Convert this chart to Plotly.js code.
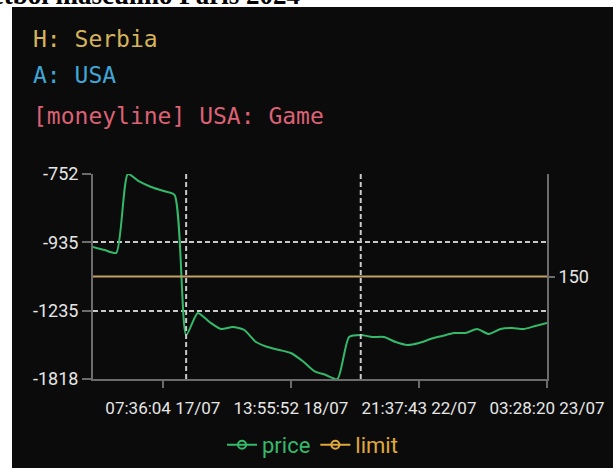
<!DOCTYPE html>
<html>
<head>
<meta charset="utf-8">
<script src="https://cdn.plot.ly/plotly-3.0.1.min.js"></script>
<style>
  html, body { margin:0; padding:0; width:613px; height:468px; overflow:hidden; background:#ffffff; }
  #title { position:absolute; right:313px; top:-18px; font:bold 27px "Liberation Serif", "DejaVu Serif", serif; line-height:27px; color:#000; white-space:nowrap; }
  #panel { position:absolute; left:12px; top:7px; width:601px; height:461px; background:#0b0b0b; }
  .hdr { position:absolute; left:33px; font:23px "DejaVu Sans Mono", "Liberation Mono", monospace; line-height:23px; white-space:nowrap; }
  #chart { position:absolute; left:12px; top:7px; width:601px; height:461px; }
</style>
</head>
<body>
<div id="title">Básquetbol masculino Paris 2024</div>
<div id="panel"></div>
<div id="chart"></div>
<div class="hdr" style="top:28px;color:#d6b35a;">H: Serbia</div>
<div class="hdr" style="top:64px;color:#3fa6d6;">A: USA</div>
<div class="hdr" style="top:105px;color:#dc6174;">[moneyline] USA: Game</div>
<script>
// moneyline price (American odds), one value per update
const priceOdds = [-950, -961, -971, -752, -769, -781, -790, -800, -1394, -1248,
                   -1304, -1351, -1337, -1358, -1448, -1489, -1514, -1541, -1617, -1723,
                   -1769, -1818, -1409, -1394, -1409, -1409, -1448, -1472, -1456, -1424,
                   -1401, -1379, -1379, -1351, -1387, -1351, -1344, -1351, -1330, -1311];
const limit = [150, 150, 150, 150, 150, 150, 150, 150, 150, 150,
               150, 150, 150, 150, 150, 150, 150, 150, 150, 150,
               150, 150, 150, 150, 150, 150, 150, 150, 150, 150,
               150, 150, 150, 150, 150, 150, 150, 150, 150, 150];
const yTickOdds = [-752, -935, -1235, -1818];
const xTickIdx = [6, 17, 28, 39];
const xTickLabels = ['07:36:04 17/07', '13:55:52 18/07', '21:37:43 22/07', '03:28:20 23/07'];
const markerIdx = [8, 23];
const limitTicks = [150];

// axis is linear in decimal odds
const toDec = o => o < 0 ? 1 + 100 / (-o) : 1 + o / 100;
const idx = priceOdds.map((_, i) => i);
const priceDec = priceOdds.map(toDec);

const fam = '"Roboto", "Liberation Sans", sans-serif';
const xFont = { family: fam, size: 17, color: '#e6e6e6' };
const yFont = { family: fam, size: 18, color: '#e6e6e6' };
const gridCol = '#c9c9c9';
const axisCol = '#6c6c6c';
const green = '#34b96b';
const orange = '#e0a83c';

const traces = [
  { x: idx, y: priceDec, type: 'scatter', mode: 'lines', showlegend: false,
    line: { color: green, width: 2, shape: 'spline', smoothing: 0.6 }, yaxis: 'y', cliponaxis: true },
  { x: idx, y: limit, type: 'scatter', mode: 'lines', showlegend: false,
    line: { color: '#c4a064', width: 2 }, yaxis: 'y2' },
  { x: [null], y: [null], type: 'scatter', mode: 'lines+markers',
    name: '<span style="color:' + green + '">price</span>',
    line: { color: green, width: 2 }, marker: { symbol: 'circle-open', size: 8, color: green, line: { width: 2 } } },
  { x: [null], y: [null], type: 'scatter', mode: 'lines+markers', yaxis: 'y2',
    name: '<span style="color:' + orange + '">limit</span>',
    line: { color: orange, width: 2 }, marker: { symbol: 'circle-open', size: 8, color: orange, line: { width: 2 } } }
];

const shapes = markerIdx.map(m => ({
  type: 'line', xref: 'x', yref: 'paper', x0: m, x1: m, y0: 0, y1: 1,
  line: { color: gridCol, width: 2, dash: '5px,3px' }, layer: 'above'
}));

const layout = {
  width: 601, height: 461,
  margin: { l: 81, r: 66, t: 167, b: 89, pad: 0 },
  paper_bgcolor: '#0b0b0b', plot_bgcolor: '#0b0b0b',
  showlegend: true,
  legend: { orientation: 'h', xref: 'container', yref: 'container', x: 0.5, xanchor: 'center', y: 0.05, yanchor: 'middle',
            font: { family: fam, size: 22, color: '#dddddd' },
            bgcolor: 'rgba(0,0,0,0)', itemwidth: 30 },
  xaxis: { range: [0, priceOdds.length - 1], tickmode: 'array', tickvals: xTickIdx, ticktext: xTickLabels,
           tickangle: 0, automargin: false, ticklabelstandoff: 6,
           showgrid: false, zeroline: false, showline: true, linecolor: axisCol, linewidth: 2,
           ticks: 'outside', ticklen: 7, tickwidth: 2, tickcolor: axisCol, tickfont: xFont,
           fixedrange: true },
  yaxis: { range: [toDec(Math.min(...priceOdds)), toDec(Math.max(...priceOdds))], automargin: false,
           tickmode: 'array', tickvals: yTickOdds.map(toDec), ticktext: yTickOdds.map(String),
           showgrid: true, gridcolor: gridCol, gridwidth: 2, griddash: '5px,3px',
           zeroline: false, showline: true, linecolor: axisCol, linewidth: 2,
           ticks: 'outside', ticklen: 9, tickwidth: 2, tickcolor: axisCol, tickfont: yFont,
           ticklabelstandoff: 0, fixedrange: true },
  yaxis2: { overlaying: 'y', side: 'right', range: [0, 300], tickmode: 'array', tickvals: limitTicks,
            automargin: false,
            showgrid: false, zeroline: false, showline: true, linecolor: axisCol, linewidth: 2,
            ticks: 'outside', ticklen: 6, tickwidth: 2, tickcolor: axisCol, tickfont: yFont,
            fixedrange: true },
  shapes: shapes
};

Plotly.newPlot('chart', traces, layout, { staticPlot: true, displayModeBar: false });
</script>
</body>
</html>
